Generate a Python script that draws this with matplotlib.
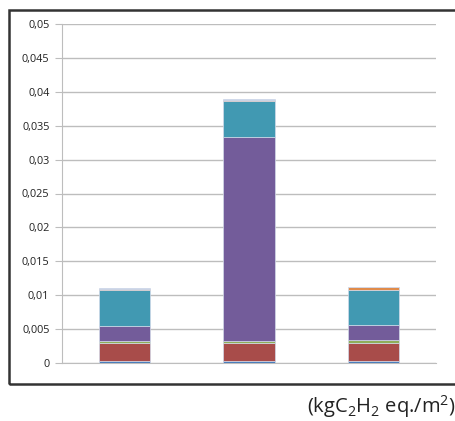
import matplotlib
matplotlib.use("Agg")
import matplotlib.pyplot as plt
from matplotlib.patches import Rectangle
import numpy as np

categories = ["A", "B", "C"]
blue = [0.0003, 0.0003, 0.0003]
red = [0.0027, 0.0027, 0.0027]
green = [0.0003, 0.0003, 0.00035]
purple = [0.0021, 0.0300, 0.0022]
teal = [0.0053, 0.0053, 0.0052]
orange = [0.0002, 0.0002, 0.0004]
lightblue = [0.0001, 0.0002, 0.00005]

series = [blue, red, green, purple, teal, orange, lightblue]
colors = ["#4A7EBB", "#A84C4A", "#8FAE5A", "#735C9A", "#4199B2", "#E08B4A", "#9DB4D6"]
yticks = [0, 0.005, 0.01, 0.015, 0.02, 0.025, 0.03, 0.035, 0.04, 0.045, 0.05]
ytick_labels = ["0", "0,005", "0,01", "0,015", "0,02", "0,025", "0,03", "0,035", "0,04", "0,045", "0,05"]
unit_label = r"(kgC$_{2}$H$_{2}$ eq./m$^{2}$)"

plt.rcParams['font.family'] = ['Open Sans', 'DejaVu Sans']
plt.rcParams['mathtext.fontset'] = 'custom'
plt.rcParams['mathtext.rm'] = 'Open Sans'
plt.rcParams['mathtext.it'] = 'Open Sans'
plt.rcParams['mathtext.default'] = 'rm'

fig = plt.figure(figsize=(4.56, 4.21), dpi=100)
ax = fig.add_axes([62/456, 1-363/421, (436-62)/456, (363-24)/421])

x = np.arange(len(categories))
bottom = np.zeros(len(categories))
for vals, c in zip(series, colors):
    ax.bar(x, vals, width=0.41, bottom=bottom, color=c, edgecolor='#D2DAEA', linewidth=0.5, zorder=3)
    bottom += np.array(vals)

ax.set_xlim(-0.5, 2.5)
ax.set_ylim(0, 0.05)
ax.set_yticks(yticks)
ax.set_yticklabels(ytick_labels, fontsize=7.8, color='#222222')
ax.set_xticks([])
ax.grid(axis='y', color='#BDBDBD', linewidth=1.0, zorder=0)
for s in ['top', 'right']:
    ax.spines[s].set_visible(False)
ax.spines['left'].set_color('#BDBDBD')
ax.spines['bottom'].set_color('#BDBDBD')
ax.tick_params(axis='y', length=5, color='#BDBDBD', pad=4)

# outer frame (right edge off-figure)
fig.patches.append(Rectangle((9/456, 1-384/421), 460/456, (384-10)/421, transform=fig.transFigure,
                             fill=False, edgecolor='#333333', linewidth=1.8))

fig.text(307/456, 1-413/421, unit_label, fontsize=14.5, va='baseline', ha='left', color='#222222')

fig.savefig("out.png", dpi=100)
